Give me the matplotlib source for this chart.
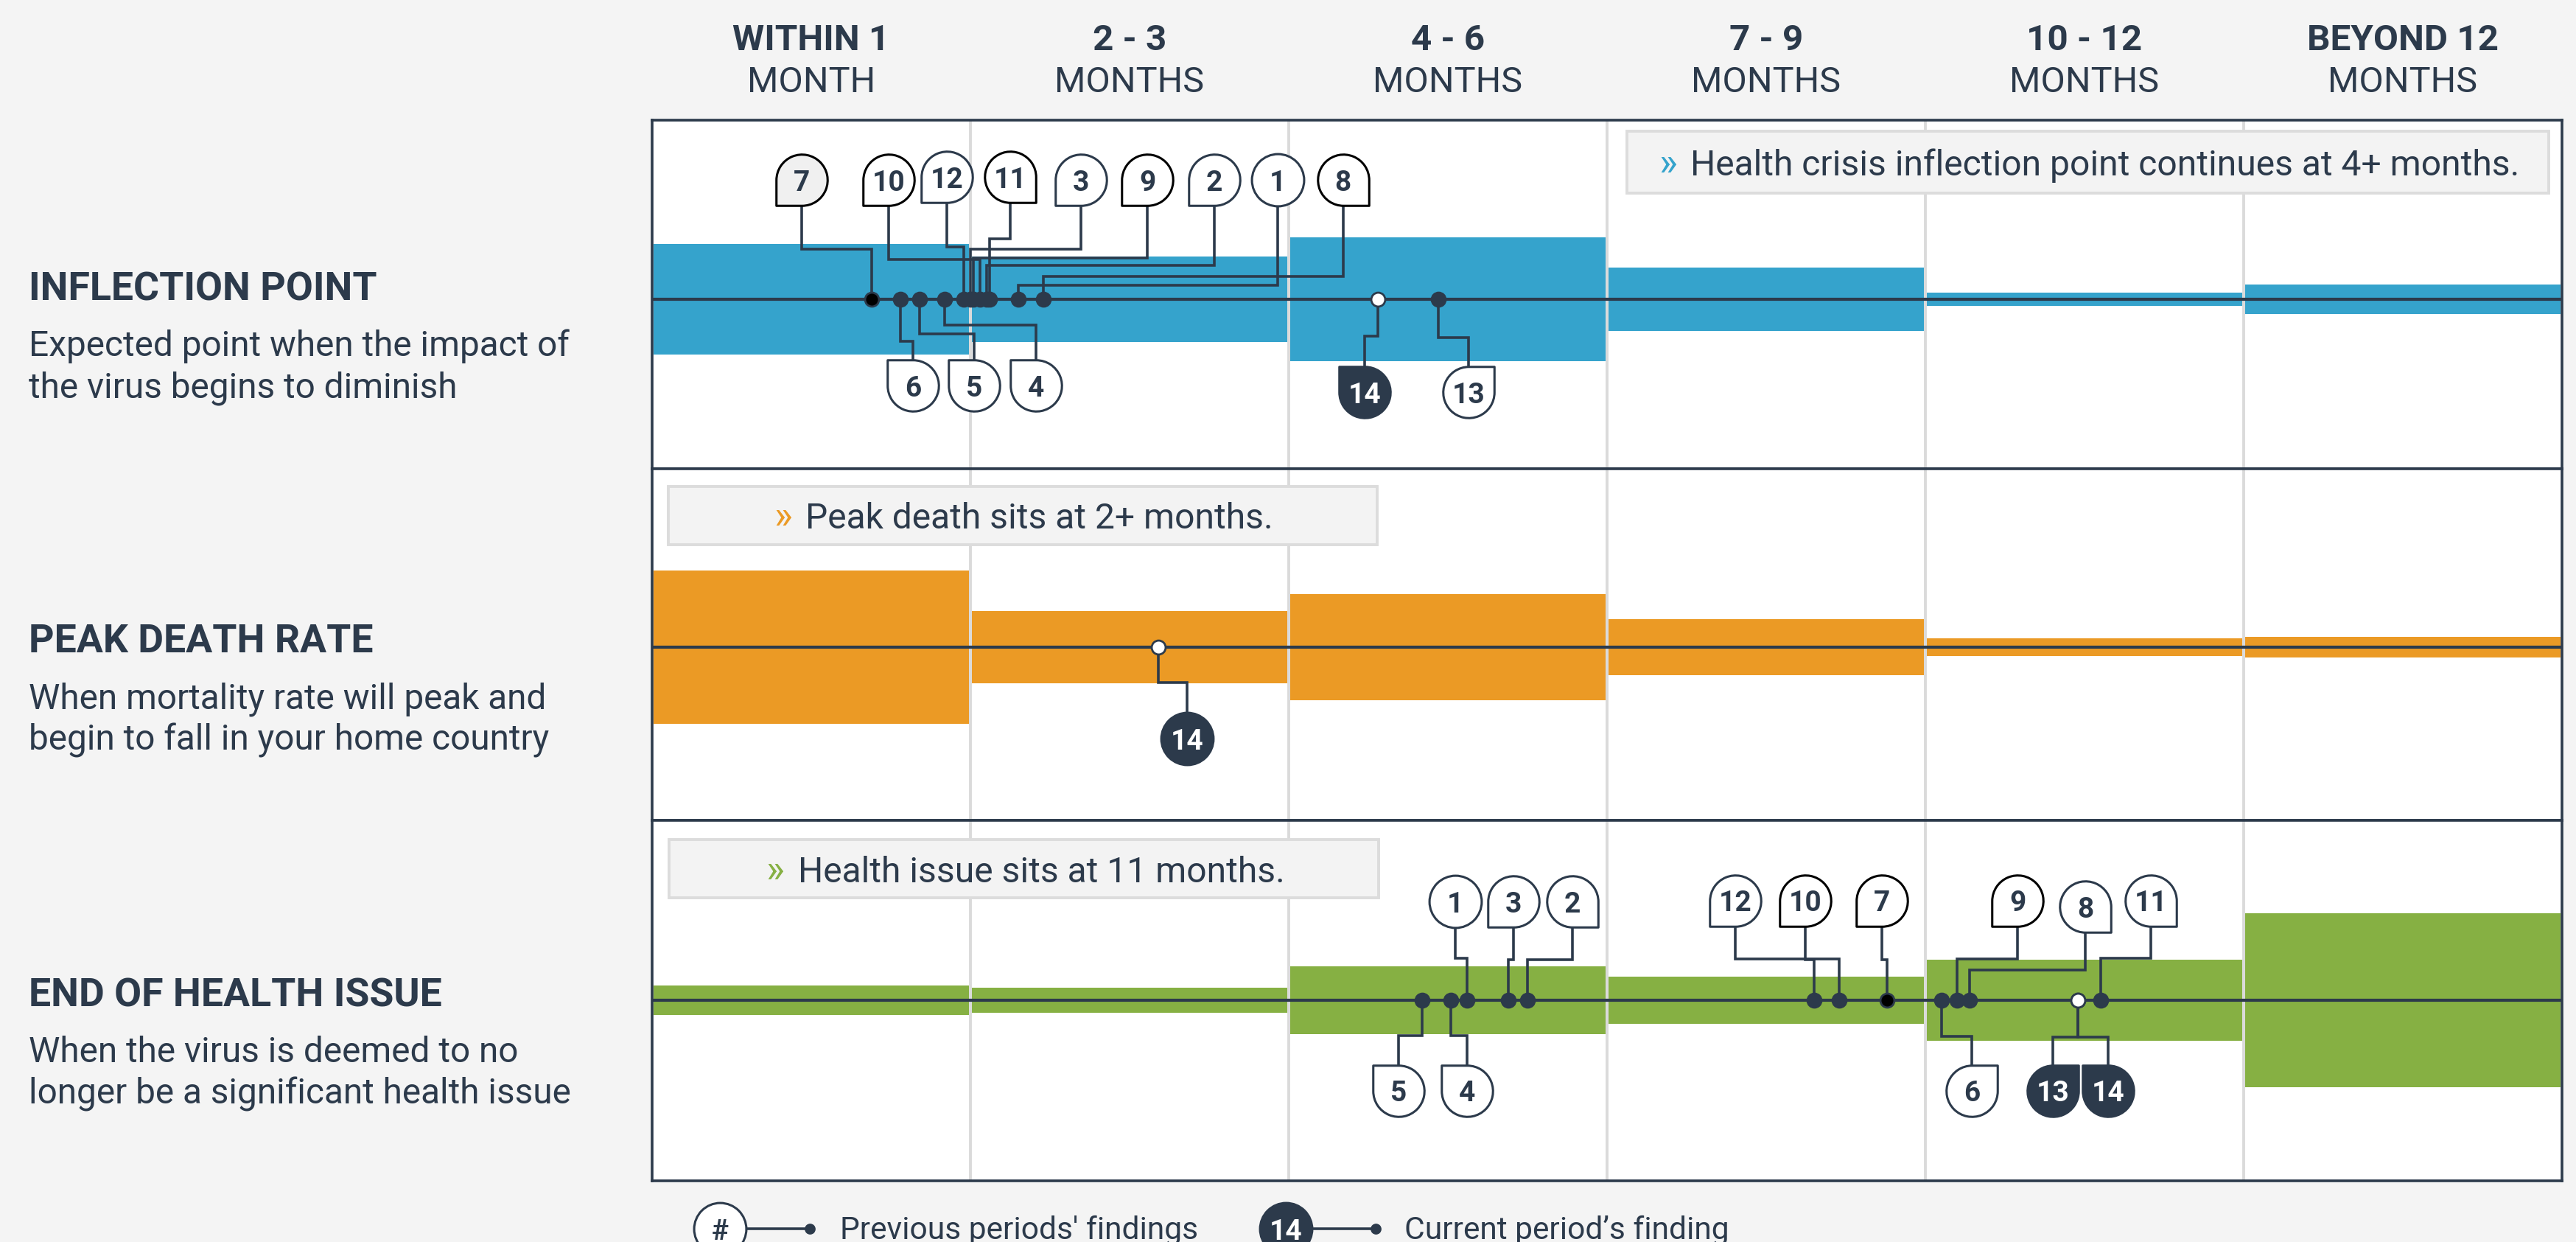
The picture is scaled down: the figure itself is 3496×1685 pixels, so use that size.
import matplotlib.pyplot as plt
import numpy as np
from matplotlib.path import Path
from matplotlib.markers import MarkerStyle
from matplotlib.patches import Rectangle

plt.rcParams['font.family'] = ['Roboto', 'DejaVu Sans']

# ---------------- data ----------------
period_top = ['WITHIN 1', '2 - 3', '4 - 6', '7 - 9', '10 - 12', 'BEYOND 12']
period_bottom = ['MONTH', 'MONTHS', 'MONTHS', 'MONTHS', 'MONTHS', 'MONTHS']

metrics = ['INFLECTION POINT', 'PEAK DEATH RATE', 'END OF HEALTH ISSUE']
descriptions = ['Expected point when the impact of\nthe virus begins to diminish',
                'When mortality rate will peak and\nbegin to fall in your home country',
                'When the virus is deemed to no\nlonger be a significant health issue']
callouts = ['Health crisis inflection point continues at 4+ months.',
            'Peak death sits at 2+ months.',
            'Health issue sits at 11 months.']

# share of respondents per period (%), drawn as band half-height
share_inflection = [26, 20, 29, 15, 3, 7]
share_peak = [36, 17, 25, 13, 4, 5]
share_end = [7, 6, 16, 11, 19, 41]

# findings of survey periods: position on the timeline (1.0 = one period column)
ids_inflection = [7, 6, 5, 4, 12, 3, 9, 10, 2, 11, 1, 8, 14, 13]
pos_inflection = [0.69, 0.78, 0.84, 0.92, 0.98, 1.00, 1.01, 1.03, 1.05, 1.06, 1.15, 1.23, 2.28, 2.47]
ids_peak = [14]
pos_peak = [1.59]
ids_end = [5, 4, 1, 3, 2, 10, 12, 7, 6, 9, 8, 13, 14, 11]
pos_end = [2.42, 2.51, 2.56, 2.69, 2.75, 3.65, 3.73, 3.88, 4.05, 4.10, 4.14, 4.48, 4.48, 4.55]

current = 14

# ---------------- layout ----------------
# label layout: id -> (label x, label y, elbow y, squared corner)
lay_inflection = {
    7: (0.470, 56, 23.6, 'bl'), 10: (0.743, 56, 18.7, 'bl'), 12: (0.926, 57.5, 24.6, 'bl'),
    11: (1.125, 57.5, 28.4, 'br'), 3: (1.347, 56, 23.6, 'bl'), 9: (1.556, 56, 19.4, 'bl'),
    2: (1.766, 56, 15.9, 'bl'), 1: (1.965, 56, 6.6, None), 8: (2.171, 56, 10.7, 'br'),
    6: (0.819, -40.6, -19.8, 'tl'), 5: (1.012, -40.6, -16.3, 'tl'), 4: (1.206, -40.6, -12.1, 'tl'),
    14: (2.238, -43.7, -17.3, 'tl'), 13: (2.565, -43.7, -18.0, 'tr'),
}
lay_peak = {14: (1.681, -43.0, -16.6, None)}
lay_end = {
    1: (2.523, 46.4, 19.8, None), 3: (2.706, 46.4, 19.1, 'bl'), 2: (2.891, 46.4, 19.1, 'br'),
    12: (3.403, 46.8, 19.5, 'bl'), 10: (3.623, 46.8, 19.1, 'bl'), 7: (3.863, 46.8, 19.1, 'bl'),
    9: (4.290, 46.8, 19.5, 'bl'), 8: (4.503, 44.0, 14.3, 'br'), 11: (4.708, 46.8, 19.8, 'br'),
    5: (2.345, -42.6, -16.6, 'tl'), 4: (2.560, -42.6, -16.6, 'tl'), 6: (4.146, -42.6, -16.9, 'tr'),
    13: (4.400, -42.6, -17.2, 'tr'), 14: (4.574, -42.6, -17.2, 'tl'),
}

W, H, DPI = 3496, 1685, 200
NAVY = '#2C3A4B'
BG = '#F4F4F4'
S = 2.885  # px per share unit
X0, X1 = 885, 3477
rows_px = [(163, 406, 636), (636, 878, 1113), (1113, 1357, 1602)]


def drop(corner):
    if corner is None:
        return Path.unit_circle()
    a = {'tr': 0, 'tl': 90, 'bl': 180, 'br': 270}[corner]
    arc = Path.arc(a + 90, a + 360)
    cx = np.sign(np.cos(np.radians(a + 45)))
    cy = np.sign(np.sin(np.radians(a + 45)))
    start = [np.cos(np.radians(a + 90)), np.sin(np.radians(a + 90))]
    verts = np.vstack([arc.vertices, [[cx, cy], start, [0, 0]]])
    codes = list(arc.codes) + [Path.LINETO, Path.LINETO, Path.CLOSEPOLY]
    return Path(verts, codes)


fig = plt.figure(figsize=(W / DPI, H / DPI), dpi=DPI, facecolor=BG)

panels = [
    (share_inflection, ids_inflection, pos_inflection, lay_inflection, '#35A3CC',
     {14}, {7}, {7, 10, 11, 9, 8}),
    (share_peak, ids_peak, pos_peak, lay_peak, '#EB9A25', {14}, set(), set()),
    (share_end, ids_end, pos_end, lay_end, '#86B043', {13, 14}, set(), {10, 7, 9}),
]

for (share, ids, pos, lay, color, dark, grey, black), (top, mid, bot) in zip(panels, rows_px):
    ax = fig.add_axes([X0 / W, 1 - bot / H, (X1 - X0) / W, (bot - top) / H])
    ax.set_facecolor('white')
    ax.set_xlim(0, 6)
    ax.set_ylim(-(bot - mid) / S, (mid - top) / S)
    ax.set_xticks([])
    ax.set_yticks([])
    for sp in ax.spines.values():
        sp.set_color(NAVY)
        sp.set_linewidth(1.3)
        sp.set_zorder(8)

    for i in range(1, 6):
        ax.axvline(i, color='#DADADA', lw=1.4, zorder=0.5)
    share = np.array(share)
    ax.bar(np.arange(6) + 0.5, 2 * share, bottom=-share, width=0.992, color=color, zorder=1)
    ax.axhline(0, color=NAVY, lw=1.5, zorder=2)

    for fid, x in zip(ids, pos):
        lx, ly, ey, corner = lay[fid]
        ax.plot([lx, lx, x, x], [ly, ey, ey, 0], color=NAVY, lw=1.3,
                solid_joinstyle='miter', zorder=3)
        if fid == current:
            dfc = 'white'
        elif fid == 7:
            dfc = 'black'
        else:
            dfc = NAVY
        ax.plot(x, 0, 'o', ms=6.8, mfc=dfc, mec=NAVY, mew=1.0, zorder=4)

        fc = NAVY if fid in dark else ('#F0F0F0' if fid in grey else 'white')
        ec = 'black' if fid in black else NAVY
        ax.plot(lx, ly, marker=MarkerStyle(drop(corner), joinstyle='miter'), ms=25.5,
                mfc=fc, mec=ec, mew=1.1, zorder=5)
        ax.text(lx, ly, str(fid), ha='center', va='center_baseline', fontsize=14,
                fontweight='bold', color='white' if fid in dark else NAVY, zorder=6)

# ---------------- overlay text (pixel coordinates) ----------------
ov = fig.add_axes([0, 0, 1, 1], zorder=10)
ov.set_xlim(0, W)
ov.set_ylim(H, 0)
ov.axis('off')

colw = (X1 - X0) / 6
for i in range(6):
    cx = X0 + colw * (i + 0.5)
    ov.text(cx, 68, period_top[i], ha='center', va='baseline', fontsize=17.8,
            fontweight='bold', color=NAVY)
    ov.text(cx, 125, period_bottom[i], ha='center', va='baseline', fontsize=17.5, color=NAVY)

title_base = [407, 885, 1366]
desc_base = [483, 962, 1441]
for t, d, ty, dy in zip(metrics, descriptions, title_base, desc_base):
    ov.text(39, ty, t, ha='left', va='baseline', fontsize=19.3, fontweight='bold', color=NAVY)
    for k, line in enumerate(d.split('\n')):
        ov.text(39, dy + 56 * k, line, ha='left', va='baseline', fontsize=17.2, color=NAVY)

boxes = [(2208, 178, 3459, 262, 2253, 2294, 238, '#35A3CC'),
         (907, 660, 1869, 739, 1052, 1093, 717, '#EB9A25'),
         (908, 1139, 1871, 1218, 1041, 1083, 1197, '#86B043')]
for msg, (bx0, by0, bx1, by1, ax_, tx, base, c) in zip(callouts, boxes):
    ov.add_patch(Rectangle((bx0, by0), bx1 - bx0, by1 - by0, facecolor='#F3F3F3',
                           edgecolor='#DCDCDC', lw=1.4))
    ov.text(ax_ - 2, base, '»', ha='left', va='baseline', fontsize=19, color=c)
    ov.text(tx, base, msg, ha='left', va='baseline', fontsize=17.3, color=NAVY)

# legend
for lx, lab, fc, tc, txt_x, txt in [(977, '#', 'white', NAVY, 1140, "Previous periods' findings"),
                                    (1745, '14', NAVY, 'white', 1906, 'Current period\u2019s finding')]:
    ov.plot([lx, lx + 122], [1667, 1667], color=NAVY, lw=1.3, zorder=1)
    ov.plot(lx + 122, 1667, 'o', ms=4.3, color=NAVY, zorder=2)
    ov.plot(lx, 1667, marker='o', ms=25.5, mfc=fc, mec=NAVY, mew=1.1, zorder=3)
    ov.text(lx, 1667, lab, ha='center', va='center_baseline', fontsize=14,
            fontweight='bold', color=tc, zorder=4)
    ov.text(txt_x, 1681, txt, ha='left', va='baseline', fontsize=15.3, color=NAVY)

fig.savefig('out.png', dpi=DPI, facecolor=BG)
